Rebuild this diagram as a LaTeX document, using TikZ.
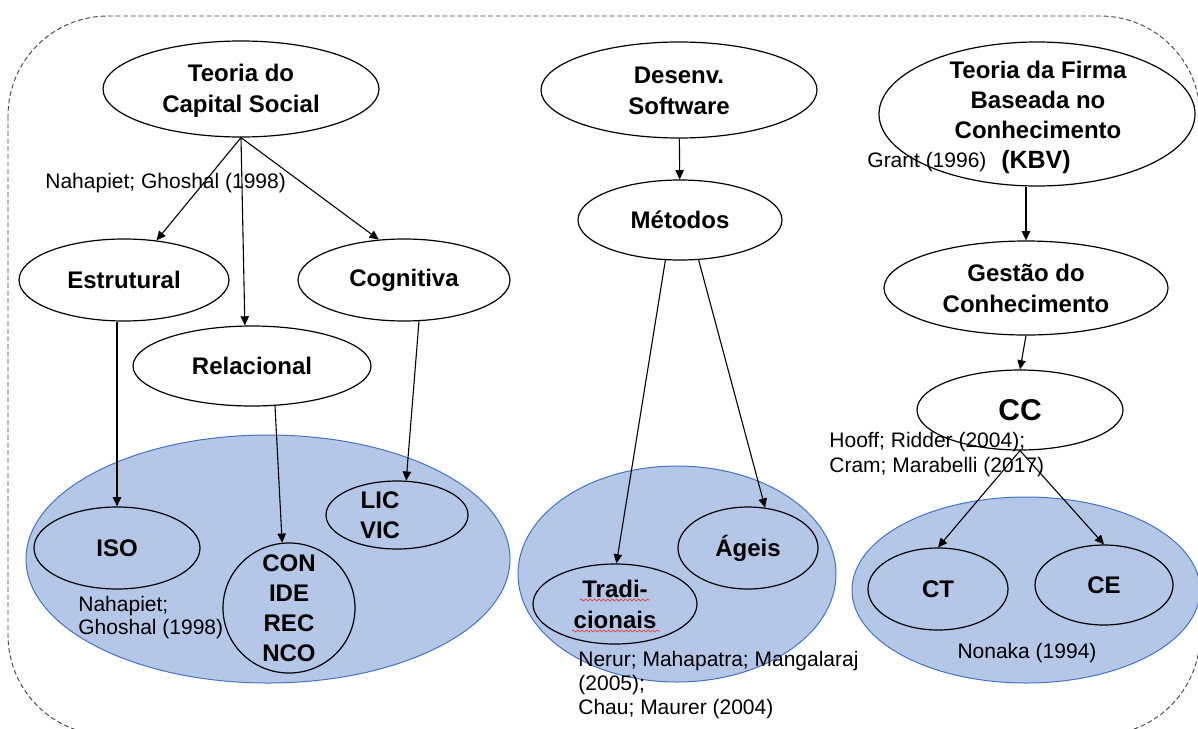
\documentclass[tikz,border=0pt]{standalone}
\usepackage{fontspec}
\setmainfont{Liberation Sans}
\usetikzlibrary{shapes.geometric,arrows.meta,decorations.pathmorphing}

\definecolor{poolFill}{RGB}{180,199,231}
\definecolor{poolLine}{RGB}{68,114,196}
\definecolor{spellRed}{RGB}{230,60,60}

\tikzset{
  oval/.style={ellipse, draw=black, line width=0.6pt, fill=white, inner sep=0pt,
    align=center, font=\bfseries\fontsize{12}{15.5}\selectfont},
  sub/.style={oval, fill=none},
  pool/.style={ellipse, draw=poolLine, fill=poolFill, line width=0.5pt, inner sep=0pt},
  cite/.style={font=\fontsize{10.5}{12}\selectfont, inner sep=0pt, align=left},
  boldtext/.style={font=\bfseries\fontsize{12}{15}\selectfont, inner sep=0pt, align=center},
  link/.style={-{Triangle[length=4.6pt,width=4.2pt]}, line width=0.55pt},
  frame/.style={draw=black!75, line width=0.45pt, dash pattern=on 2.4pt off 1.4pt,
    rounded corners=50pt},
  squiggle/.style={draw=spellRed, line width=0.35pt,
    decorate, decoration={snake, amplitude=0.5pt, segment length=2.2pt}},
}

\begin{document}
\begin{tikzpicture}[x=0.5pt,y=-0.5pt]
\useasboundingbox (0,0) rectangle (1198,728);

% outer dashed frame
\draw[frame] (8,16) rectangle (1200,735);

% ---------- shaded groups ----------
\node[pool, minimum width=242pt, minimum height=124pt] (poolL) at (268,559) {};
\node[pool, minimum width=159pt, minimum height=108pt] (poolM) at (677,574) {};
\node[pool, minimum width=174pt, minimum height=93pt]  (poolR) at (1026,590) {};

% ---------- social capital column ----------
\node[oval, minimum width=138pt, minimum height=48pt] (tcs) at (241,89) {};
\node[boldtext, font=\bfseries\fontsize{12}{15.5}\selectfont] (tcstext) at (241,91) {Teoria do\\Capital Social};
\node[cite, anchor=west] (citeA) at (45,183) {Nahapiet; Ghoshal (1998)};
\node[oval, minimum width=105pt, minimum height=41pt] (estr) at (124,280) {Estrutural};
\node[oval, minimum width=106pt, minimum height=41pt] (cogn) at (404,280) {Cognitiva};
\node[oval, minimum width=119pt, minimum height=40pt] (rel) at (252,366) {Relacional};

\node[sub, minimum width=83pt, minimum height=41pt] (iso) at (117,548) {ISO};
\node[sub, minimum width=66pt, minimum height=65pt] (con) at (289,608) {};
\node[boldtext] (context) at (289,608) {CON\\IDE\\REC\\NCO};
\node[sub, minimum width=71pt, minimum height=34pt] (lic) at (397,515) {};
\node[boldtext] (lictext) at (380,515) {LIC\\VIC};
\node[cite, anchor=west, font=\fontsize{10.5}{11.5}\selectfont] (citeB) at (78,618) {Nahapiet;\\Ghoshal (1998)};

\draw[link] (tcs.south) -- (estr);
\draw[link] (tcs.south) -- (rel.100);
\draw[link] (tcs.south) -- (cogn.122);
\draw[link] (iso.north |- estr.south) -- (iso.north);
\draw[link] (rel.-60) -- (con.96);
\draw[link] (cogn.-70) -- (lic.75);

% ---------- software development column ----------
\node[oval, minimum width=138pt, minimum height=48pt] (desenv) at (679,90) {};
\node[boldtext, font=\bfseries\fontsize{12}{15.5}\selectfont] (desenvtext) at (679,91) {Desenv.\\Software};
\node[oval, minimum width=102pt, minimum height=40pt] (met) at (680,220) {Métodos};
\node[sub, minimum width=70pt, minimum height=41pt] (ageis) at (748,548) {Ágeis};
\node[sub, minimum width=82pt, minimum height=40pt] (trad) at (615,604) {Tradi-\\cionais};
\node[cite, anchor=north west] (citeC) at (578,651) {Nerur; Mahapatra; Mangalaraj\\(2005);\\Chau; Maurer (2004)};

\draw[squiggle] (580,600) -- (650,600);
\draw[squiggle] (572,631) -- (660,631);

\draw[link] (desenv) -- (met);
\draw[link] (met.-110) -- (trad.88);
\draw[link] (met.-65) -- (ageis.67);

% ---------- knowledge-based view column ----------
\node[oval, minimum width=158pt, minimum height=72pt] (tfirma) at (1037,114) {};
\node[boldtext] (tfirmatext) at (1038,100) {Teoria da Firma\\Baseada no\\Conhecimento};
\node[boldtext, font=\bfseries\fontsize{12.5}{15}\selectfont] (kbv) at (1036,162) {(KBV)};
\node[cite, anchor=west] (citeD) at (867,162) {Grant (1996)};
\node[oval, minimum width=142pt, minimum height=47pt] (gestao) at (1026,288) {Gestão do\\Conhecimento};
\node[oval, minimum width=103pt, minimum height=40pt, font=\bfseries\fontsize{15}{18}\selectfont] (cc) at (1020,410) {CC};
\node[cite, anchor=west, font=\fontsize{10.5}{12.5}\selectfont] (citeE) at (829,455) {Hooff; Ridder (2004);\\Cram; Marabelli (2017)};
\node[sub, minimum width=70pt, minimum height=41pt] (ct) at (938,589) {CT};
\node[sub, minimum width=69pt, minimum height=40pt] (ce) at (1104,585) {CE};
\node[cite] (citeF) at (1027,653) {Nonaka (1994)};

\draw[link] (gestao.north |- tfirma.south) -- (gestao.north);
\draw[link] (gestao.south) -- (cc.north);
\draw[link] (cc.south) -- (ct.north);
\draw[link] (cc.south) -- (ce.north);

\end{tikzpicture}
\end{document}
